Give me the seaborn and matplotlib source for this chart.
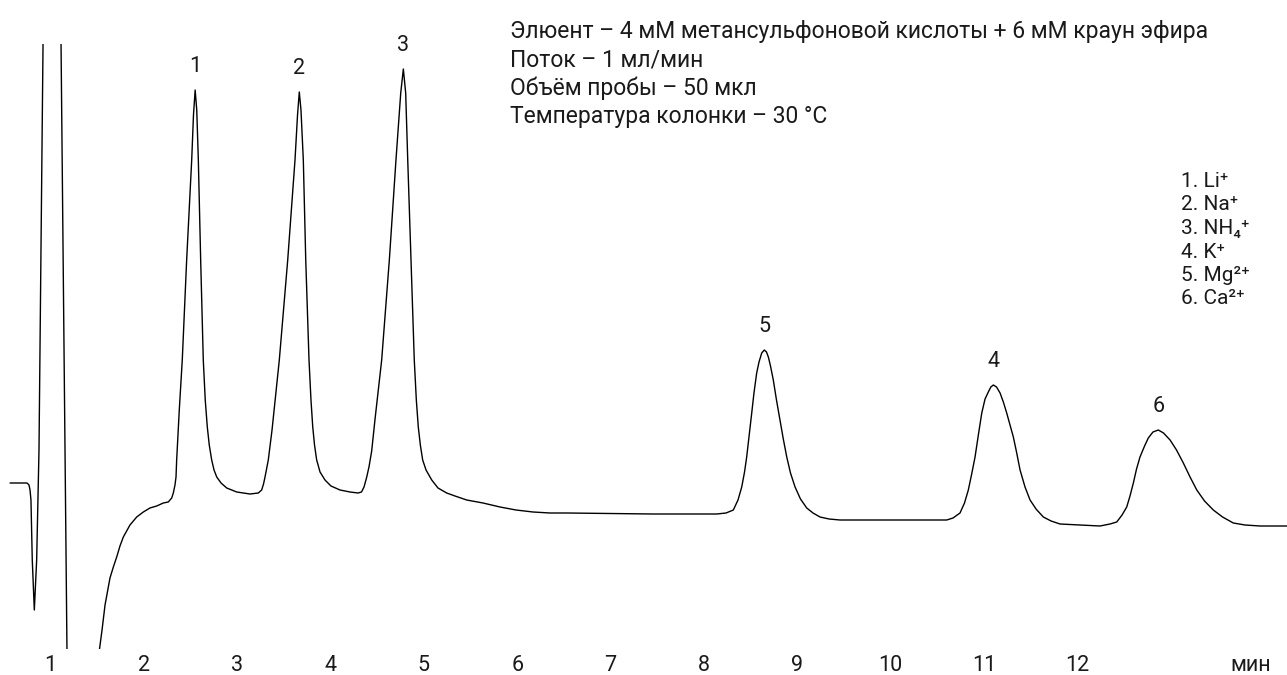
import numpy as np
import matplotlib
matplotlib.use("Agg")
import matplotlib.pyplot as plt
import seaborn as sns

# --- data (time, min / signal, arb. units) ---
time_min = [
    0.570, 0.752, 0.773, 0.784, 0.794, 0.808, 0.830, 0.855, 0.880, 0.901,
    0.923, 0.939, 1.110, 1.116, 1.180, 1.191, 1.501, 1.528, 1.555, 1.587,
    1.640, 1.676, 1.712, 1.747, 1.783, 1.854, 1.926, 1.997, 2.068, 2.140,
    2.211, 2.264, 2.301, 2.318, 2.336, 2.347, 2.354, 2.382, 2.414, 2.461,
    2.515, 2.534, 2.552, 2.569, 2.586, 2.611, 2.639, 2.660, 2.682, 2.703,
    2.729, 2.754, 2.783, 2.829, 2.890, 2.997, 3.139, 3.228, 3.264, 3.284,
    3.300, 3.335, 3.375, 3.453, 3.543, 3.621, 3.648, 3.667, 3.685, 3.710,
    3.736, 3.771, 3.792, 3.811, 3.830, 3.853, 3.889, 3.942, 4.006, 4.103,
    4.210, 4.296, 4.333, 4.360, 4.389, 4.413, 4.442, 4.478, 4.549, 4.631,
    4.702, 4.753, 4.781, 4.806, 4.828, 4.863, 4.898, 4.920, 4.941, 4.963,
    4.988, 5.024, 5.085, 5.152, 5.245, 5.334, 5.459, 5.634, 5.816, 5.987,
    6.169, 6.351, 6.530, 7.454, 8.136, 8.236, 8.314, 8.364, 8.404, 8.434,
    8.457, 8.482, 8.511, 8.535, 8.564, 8.589, 8.618, 8.646, 8.669, 8.689,
    8.712, 8.742, 8.776, 8.814, 8.849, 8.886, 8.926, 8.975, 9.033, 9.100,
    9.167, 9.242, 9.339, 9.456, 10.599, 10.666, 10.741, 10.789, 10.830, 10.866,
    10.902, 10.939, 10.974, 11.009, 11.044, 11.071, 11.098, 11.132, 11.170, 11.205,
    11.241, 11.277, 11.312, 11.346, 11.384, 11.437, 11.491, 11.555, 11.633, 11.716,
    11.812, 12.026, 12.240, 12.347, 12.419, 12.476, 12.526, 12.561, 12.597, 12.631,
    12.668, 12.717, 12.757, 12.807, 12.864, 12.920, 12.990, 13.059, 13.132, 13.204,
    13.276, 13.359, 13.453, 13.552, 13.667, 13.793, 13.953, 14.242,
]
signal = [
    16.6, 16.6, 16.4, 15.9, 14.9, 8.9, 3.9, 8.9, 19.9, 39.9,
    60.5, 74.9, 74.9, 60.5, 0.0, -13.1, -1.7, 0.0, 1.9, 4.4,
    7.1, 8.2, 9.2, 10.3, 11.2, 12.4, 13.2, 13.7, 14.1, 14.3,
    14.6, 14.7, 15.1, 15.6, 16.4, 17.2, 18.9, 23.9, 28.9, 38.9,
    48.9, 53.4, 55.9, 53.9, 48.9, 38.9, 28.9, 24.9, 22.2, 20.4,
    18.9, 17.9, 17.2, 16.6, 16.1, 15.7, 15.5, 15.6, 15.9, 16.5,
    17.2, 18.9, 21.9, 28.9, 38.9, 48.9, 53.4, 55.7, 53.9, 48.9,
    38.9, 28.9, 24.9, 22.2, 20.4, 18.9, 17.7, 16.9, 16.3, 15.9,
    15.7, 15.6, 15.7, 16.2, 17.2, 18.2, 19.8, 23.0, 28.9, 38.9,
    48.9, 55.6, 58.0, 55.6, 48.9, 38.9, 28.9, 24.9, 22.2, 20.4,
    18.9, 17.9, 16.9, 16.1, 15.6, 15.3, 14.9, 14.6, 14.2, 13.9,
    13.7, 13.6, 13.6, 13.5, 13.5, 13.6, 13.9, 14.9, 16.2, 17.7,
    19.2, 21.2, 23.6, 25.6, 27.6, 28.7, 29.6, 29.9, 29.7, 29.2,
    28.3, 26.9, 24.9, 22.9, 21.0, 19.2, 17.6, 16.2, 15.0, 14.1,
    13.6, 13.2, 13.0, 12.9, 12.9, 13.1, 13.6, 14.6, 15.9, 17.5,
    19.2, 21.5, 23.6, 25.0, 25.7, 26.2, 26.4, 26.2, 25.6, 24.7,
    23.6, 22.4, 21.2, 19.7, 17.9, 16.2, 14.9, 14.0, 13.2, 12.8,
    12.5, 12.4, 12.3, 12.5, 12.7, 13.4, 14.2, 15.3, 16.6, 18.0,
    19.2, 20.3, 21.1, 21.7, 21.9, 21.6, 20.9, 19.9, 18.6, 17.2,
    15.9, 14.8, 13.9, 13.2, 12.6, 12.4, 12.3, 12.3,
]

peak_ids = ["1", "2", "3", "5", "4", "6"]
peak_rt = [2.552, 3.667, 4.781, 8.646, 11.098, 12.864]

tick_vals = list(range(1, 13)) + [13.85]
tick_text = [str(i) for i in range(1, 13)] + ["мин"]

conditions = [
    "Элюент – 4 мМ метансульфоновой кислоты + 6 мМ краун эфира",
    "Поток – 1 мл/мин",
    "Объём пробы – 50 мкл",
    "Температура колонки – 30 °C",
]
ions = [
    "1. Li⁺",
    "2. Na⁺",
    "3. NH₄⁺",
    "4. K⁺",
    "5. Mg²⁺",
    "6. Ca²⁺",
]

sns.set_theme(style="white")
plt.rcParams["font.family"] = ["Roboto", "DejaVu Sans"]

W, H = 1287, 675
fig = plt.figure(figsize=(W / 100, H / 100), dpi=100)
ax = fig.add_axes([0, (H - 649) / H, 1, (649 - 44) / H])

sns.lineplot(x=time_min, y=signal, ax=ax, sort=False, estimator=None,
             color="black", linewidth=1.0)

ax.set_xlim(0.4625, 14.242)
ax.set_ylim(0, 60.5)
for s in ax.spines.values():
    s.set_visible(False)
ax.set_yticks([])
ax.set_xticks(tick_vals)
ax.set_xticklabels(tick_text, fontsize=15.5, color="#1a1a1a")
ax.tick_params(axis="x", length=0, pad=4)
ax.set_xlabel("")
ax.set_ylabel("")

# peak numbers above each apex
for pid, rt in zip(peak_ids, peak_rt):
    top = np.interp(rt, time_min, signal)
    ax.annotate(pid, (rt, top), xytext=(0, 17), textcoords="offset points",
                ha="center", va="center", fontsize=15.5, color="#1a1a1a",
                annotation_clip=False)

# run conditions
for i, line in enumerate(conditions):
    fig.text(510 / W, 1 - (38 + i * 28.5) / H, line, fontsize=16.5,
             color="#1a1a1a", ha="left", va="baseline")

# ion list
for i, ion in enumerate(ions):
    fig.text(1181 / W, 1 - (187 + i * 23.5) / H, ion, fontsize=15,
             color="#1a1a1a", ha="left", va="baseline")

fig.savefig("out.png", dpi=100)
